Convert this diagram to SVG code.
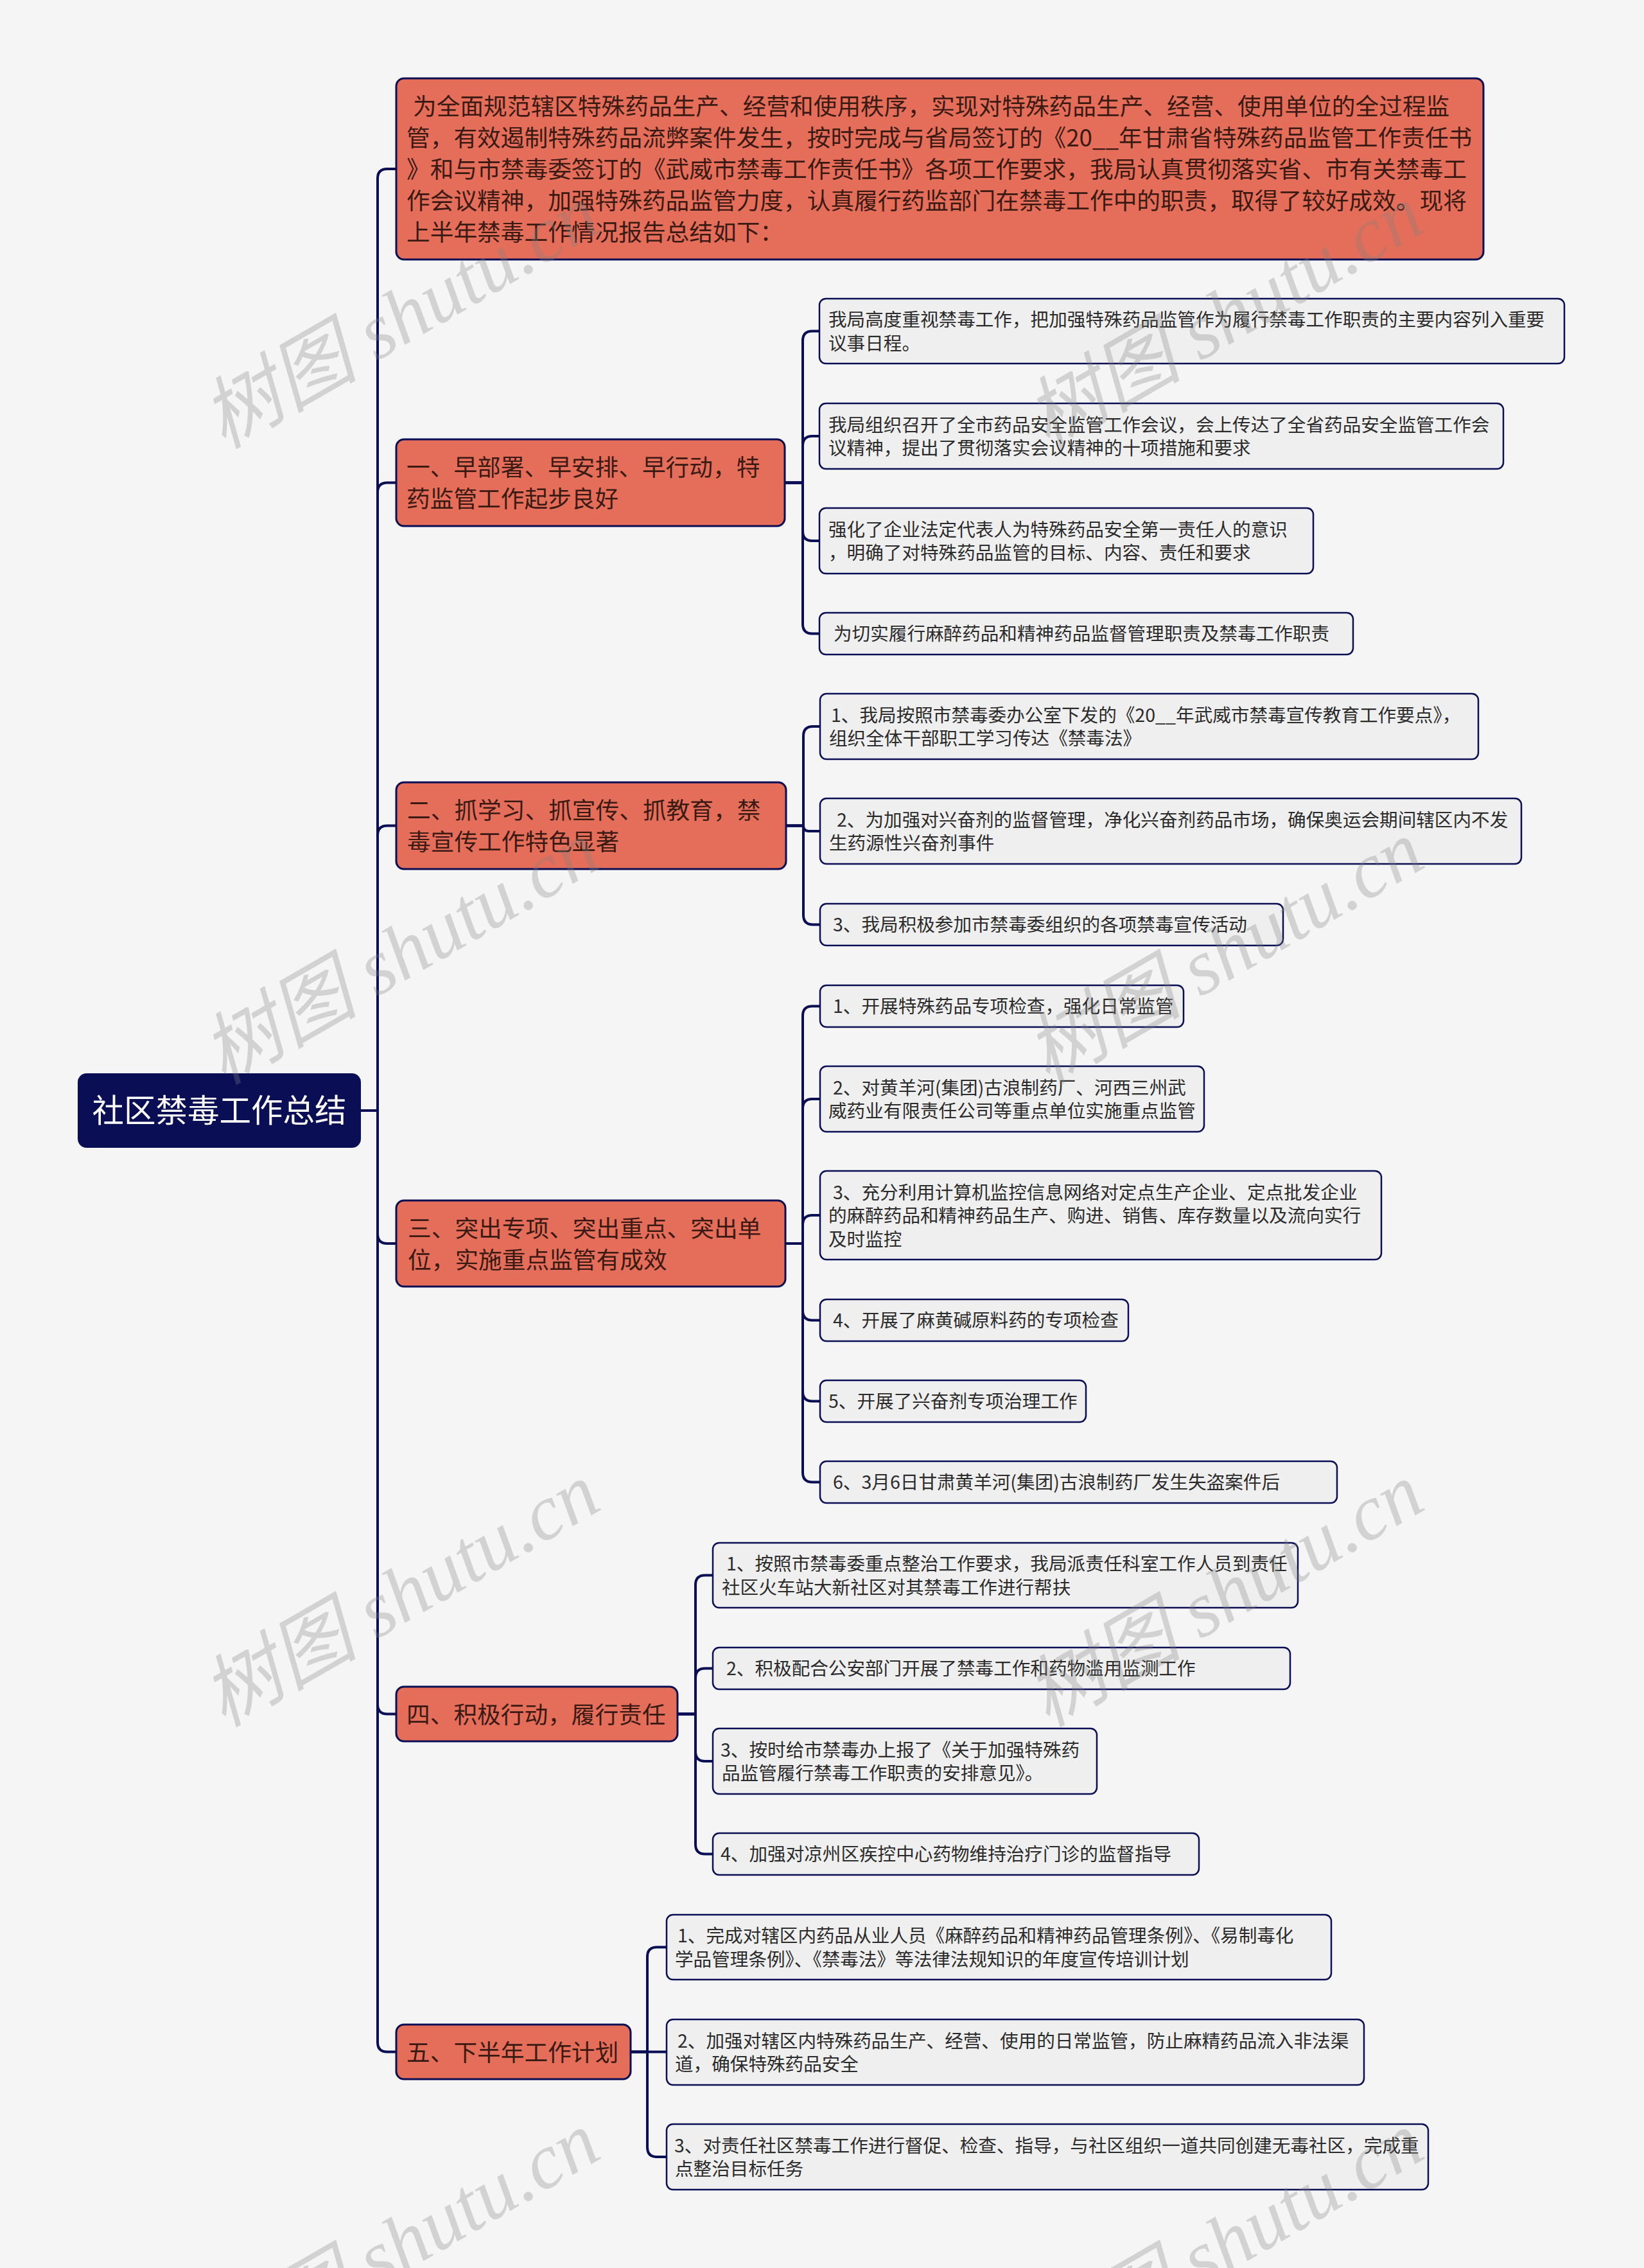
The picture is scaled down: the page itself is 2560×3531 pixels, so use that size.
<svg xmlns="http://www.w3.org/2000/svg" width="2560" height="3531" viewBox="0 0 2560 3531">
<style>
.bg{fill:#f5f5f5}
.root{fill:#0a0e55}
.br{fill:#e46e5a;stroke:#0a0e55;stroke-width:3}
.lf{fill:#efefef;stroke:#0a0e55;stroke-width:2.5}
.rt{font-family:"Noto Sans CJK SC","Liberation Sans",sans-serif;font-size:49.5px;fill:#ffffff}
.bt{font-family:"Noto Sans CJK SC","Liberation Sans",sans-serif;font-size:36.7px;fill:#3b1a14}
.lt{font-family:"Noto Sans CJK SC","Liberation Sans",sans-serif;font-size:28.6px;fill:#2b2b2b}
.cn{fill:none;stroke:#0a0e55;stroke-width:4}
.wm{font-family:"Liberation Serif","Noto Sans CJK SC",serif;font-style:italic;font-size:122px;fill:#808080;fill-opacity:0.3}
</style>
<rect class="bg" x="0" y="0" width="2560" height="3531"/>

<g id="connectors">
<path class="cn" d="M562 1729 H588 V278 Q588 263 603 263 H617"/>
<path class="cn" d="M562 1729 H588 V766.5 Q588 751.5 603 751.5 H617"/>
<path class="cn" d="M562 1729 H588 V1300.5 Q588 1285.5 603 1285.5 H617"/>
<path class="cn" d="M562 1729 H588 V1921 Q588 1936 603 1936 H617"/>
<path class="cn" d="M562 1729 H588 V2653.5 Q588 2668.5 603 2668.5 H617"/>
<path class="cn" d="M562 1729 H588 V3179.5 Q588 3194.5 603 3194.5 H617"/>

<path class="cn" d="M1222 751.5 H1250 V530.5 Q1250 515.5 1265 515.5 H1276"/>
<path class="cn" d="M1222 751.5 H1250 V694 Q1250 679 1265 679 H1276"/>
<path class="cn" d="M1222 751.5 H1250 V827 Q1250 842 1265 842 H1276"/>
<path class="cn" d="M1222 751.5 H1250 V971.5 Q1250 986.5 1265 986.5 H1276"/>

<path class="cn" d="M1224 1285.5 H1251 V1146 Q1251 1131 1266 1131 H1277"/>
<path class="cn" d="M1224 1285.5 H1251 Q1251 1294 1259.5 1294 H1277"/>
<path class="cn" d="M1224 1285.5 H1251 V1424.5 Q1251 1439.5 1266 1439.5 H1277"/>

<path class="cn" d="M1223 1936 H1250 V1581.5 Q1250 1566.5 1265 1566.5 H1277"/>
<path class="cn" d="M1223 1936 H1250 V1726 Q1250 1711 1265 1711 H1277"/>
<path class="cn" d="M1223 1936 H1250 V1907 Q1250 1892 1265 1892 H1277"/>
<path class="cn" d="M1223 1936 H1250 V2040.5 Q1250 2055.5 1265 2055.5 H1277"/>
<path class="cn" d="M1223 1936 H1250 V2166.5 Q1250 2181.5 1265 2181.5 H1277"/>
<path class="cn" d="M1223 1936 H1250 V2292.5 Q1250 2307.5 1265 2307.5 H1277"/>

<path class="cn" d="M1055 2668.5 H1083 V2467.5 Q1083 2452.5 1098 2452.5 H1110"/>
<path class="cn" d="M1055 2668.5 H1083 V2612.5 Q1083 2597.5 1098 2597.5 H1110"/>
<path class="cn" d="M1055 2668.5 H1083 V2727 Q1083 2742 1098 2742 H1110"/>
<path class="cn" d="M1055 2668.5 H1083 V2871.5 Q1083 2886.5 1098 2886.5 H1110"/>

<path class="cn" d="M982 3194.5 H1008 V3046.5 Q1008 3031.5 1023 3031.5 H1038"/>
<path class="cn" d="M982 3194.5 H1038"/>
<path class="cn" d="M982 3194.5 H1008 V3343 Q1008 3358 1023 3358 H1038"/>
</g>

<g id="root">
<rect class="root" x="121" y="1671" width="441" height="116" rx="14"/>
<text class="rt" x="341.5" y="1747" text-anchor="middle">社区禁毒工作总结</text>
</g>

<g id="intro">
<rect class="br" x="617" y="122" width="1693" height="282" rx="12"/>
<text class="bt">
<tspan x="643" y="179">为全面规范辖区特殊药品生产、经营和使用秩序，实现对特殊药品生产、经营、使用单位的全过程监</tspan>
<tspan x="633" y="228">管，有效遏制特殊药品流弊案件发生，按时完成与省局签订的《20__年甘肃省特殊药品监管工作责任书</tspan>
<tspan x="633" y="277">》和与市禁毒委签订的《武威市禁毒工作责任书》各项工作要求，我局认真贯彻落实省、市有关禁毒工</tspan>
<tspan x="633" y="326">作会议精神，加强特殊药品监管力度，认真履行药监部门在禁毒工作中的职责，取得了较好成效。现将</tspan>
<tspan x="633" y="375">上半年禁毒工作情况报告总结如下：</tspan>
</text>
</g>

<g id="b1">
<rect class="br" x="617" y="684" width="605" height="135" rx="12"/>
<text class="bt"><tspan x="633" y="741">一、早部署、早安排、早行动，特</tspan><tspan x="633" y="790">药监管工作起步良好</tspan></text>
</g>
<g id="b1c1">
<rect class="lf" x="1276" y="465" width="1160" height="101" rx="10"/>
<text class="lt"><tspan x="1290" y="508">我局高度重视禁毒工作，把加强特殊药品监管作为履行禁毒工作职责的主要内容列入重要</tspan><tspan x="1290" y="544.5">议事日程。</tspan></text>
</g>
<g id="b1c2">
<rect class="lf" x="1276" y="628" width="1065" height="102" rx="10"/>
<text class="lt"><tspan x="1290" y="671.5">我局组织召开了全市药品安全监管工作会议，会上传达了全省药品安全监管工作会</tspan><tspan x="1290" y="708">议精神，提出了贯彻落实会议精神的十项措施和要求</tspan></text>
</g>
<g id="b1c3">
<rect class="lf" x="1276" y="791" width="769" height="102" rx="10"/>
<text class="lt"><tspan x="1290" y="834.5">强化了企业法定代表人为特殊药品安全第一责任人的意识</tspan><tspan x="1290" y="871">，明确了对特殊药品监管的目标、内容、责任和要求</tspan></text>
</g>
<g id="b1c4">
<rect class="lf" x="1276" y="954" width="831" height="65" rx="10"/>
<text class="lt" x="1298" y="997">为切实履行麻醉药品和精神药品监督管理职责及禁毒工作职责</text>
</g>

<g id="b2">
<rect class="br" x="617" y="1218" width="607" height="135" rx="12"/>
<text class="bt"><tspan x="634" y="1275">二、抓学习、抓宣传、抓教育，禁</tspan><tspan x="634" y="1324">毒宣传工作特色显著</tspan></text>
</g>
<g id="b2c1">
<rect class="lf" x="1277" y="1080" width="1025" height="102" rx="10"/>
<text class="lt"><tspan x="1294" y="1123.5">1、我局按照市禁毒委办公室下发的《20__年武威市禁毒宣传教育工作要点》，</tspan><tspan x="1291" y="1160">组织全体干部职工学习传达《禁毒法》</tspan></text>
</g>
<g id="b2c2">
<rect class="lf" x="1277" y="1243" width="1092" height="102" rx="10"/>
<text class="lt"><tspan x="1303" y="1286.5">2、为加强对兴奋剂的监督管理，净化兴奋剂药品市场，确保奥运会期间辖区内不发</tspan><tspan x="1291" y="1323">生药源性兴奋剂事件</tspan></text>
</g>
<g id="b2c3">
<rect class="lf" x="1277" y="1407" width="721" height="65" rx="10"/>
<text class="lt" x="1297" y="1450">3、我局积极参加市禁毒委组织的各项禁毒宣传活动</text>
</g>

<g id="b3">
<rect class="br" x="617" y="1869" width="606" height="134" rx="12"/>
<text class="bt"><tspan x="635" y="1925.5">三、突出专项、突出重点、突出单</tspan><tspan x="635" y="1974.5">位，实施重点监管有成效</tspan></text>
</g>
<g id="b3c1">
<rect class="lf" x="1277" y="1534" width="566" height="65" rx="10"/>
<text class="lt" x="1297" y="1577">1、开展特殊药品专项检查，强化日常监管</text>
</g>
<g id="b3c2">
<rect class="lf" x="1277" y="1660" width="598" height="102" rx="10"/>
<text class="lt"><tspan x="1297" y="1703.5">2、对黄羊河(集团)古浪制药厂、河西三州武</tspan><tspan x="1290" y="1740">威药业有限责任公司等重点单位实施重点监管</tspan></text>
</g>
<g id="b3c3">
<rect class="lf" x="1277" y="1823" width="874" height="138" rx="10"/>
<text class="lt"><tspan x="1297" y="1866.5">3、充分利用计算机监控信息网络对定点生产企业、定点批发企业</tspan><tspan x="1290" y="1903">的麻醉药品和精神药品生产、购进、销售、库存数量以及流向实行</tspan><tspan x="1290" y="1939.5">及时监控</tspan></text>
</g>
<g id="b3c4">
<rect class="lf" x="1277" y="2023" width="480" height="65" rx="10"/>
<text class="lt" x="1297" y="2066">4、开展了麻黄碱原料药的专项检查</text>
</g>
<g id="b3c5">
<rect class="lf" x="1277" y="2149" width="414" height="65" rx="10"/>
<text class="lt" x="1290" y="2192">5、开展了兴奋剂专项治理工作</text>
</g>
<g id="b3c6">
<rect class="lf" x="1277" y="2275" width="805" height="65" rx="10"/>
<text class="lt" x="1297" y="2318">6、3月6日甘肃黄羊河(集团)古浪制药厂发生失盗案件后</text>
</g>

<g id="b4">
<rect class="br" x="617" y="2626" width="438" height="85" rx="12"/>
<text class="bt" x="633" y="2683">四、积极行动，履行责任</text>
</g>
<g id="b4c1">
<rect class="lf" x="1110" y="2402" width="911" height="101" rx="10"/>
<text class="lt"><tspan x="1131" y="2445">1、按照市禁毒委重点整治工作要求，我局派责任科室工作人员到责任</tspan><tspan x="1124" y="2481.5">社区火车站大新社区对其禁毒工作进行帮扶</tspan></text>
</g>
<g id="b4c2">
<rect class="lf" x="1110" y="2565" width="899" height="65" rx="10"/>
<text class="lt" x="1131" y="2608">2、积极配合公安部门开展了禁毒工作和药物滥用监测工作</text>
</g>
<g id="b4c3">
<rect class="lf" x="1110" y="2691" width="598" height="102" rx="10"/>
<text class="lt"><tspan x="1122" y="2734.5">3、按时给市禁毒办上报了《关于加强特殊药</tspan><tspan x="1124" y="2771">品监管履行禁毒工作职责的安排意见》。</tspan></text>
</g>
<g id="b4c4">
<rect class="lf" x="1110" y="2854" width="757" height="65" rx="10"/>
<text class="lt" x="1122" y="2897">4、加强对凉州区疾控中心药物维持治疗门诊的监督指导</text>
</g>

<g id="b5">
<rect class="br" x="617" y="3152" width="365" height="85" rx="12"/>
<text class="bt" x="633" y="3208.5">五、下半年工作计划</text>
</g>
<g id="b5c1">
<rect class="lf" x="1038" y="2981" width="1035" height="101" rx="10"/>
<text class="lt"><tspan x="1055" y="3024">1、完成对辖区内药品从业人员《麻醉药品和精神药品管理条例》、《易制毒化</tspan><tspan x="1051" y="3060.5">学品管理条例》、《禁毒法》等法律法规知识的年度宣传培训计划</tspan></text>
</g>
<g id="b5c2">
<rect class="lf" x="1038" y="3144" width="1086" height="102" rx="10"/>
<text class="lt"><tspan x="1055" y="3187.5">2、加强对辖区内特殊药品生产、经营、使用的日常监管，防止麻精药品流入非法渠</tspan><tspan x="1051" y="3224">道，确保特殊药品安全</tspan></text>
</g>
<g id="b5c3">
<rect class="lf" x="1038" y="3307" width="1186" height="102" rx="10"/>
<text class="lt"><tspan x="1050" y="3350.5">3、对责任社区禁毒工作进行督促、检查、指导，与社区组织一道共同创建无毒社区，完成重</tspan><tspan x="1051" y="3387">点整治目标任务</tspan></text>
</g>

<g id="watermarks">
<text class="wm" x="348" y="700" transform="rotate(-30 348 700)">树图 shutu.cn</text>
<text class="wm" x="1631" y="700" transform="rotate(-30 1631 700)">树图 shutu.cn</text>
<text class="wm" x="348" y="1690" transform="rotate(-30 348 1690)">树图 shutu.cn</text>
<text class="wm" x="1631" y="1690" transform="rotate(-30 1631 1690)">树图 shutu.cn</text>
<text class="wm" x="348" y="2690" transform="rotate(-30 348 2690)">树图 shutu.cn</text>
<text class="wm" x="1631" y="2690" transform="rotate(-30 1631 2690)">树图 shutu.cn</text>
<text class="wm" x="348" y="3700" transform="rotate(-30 348 3700)">树图 shutu.cn</text>
<text class="wm" x="1631" y="3700" transform="rotate(-30 1631 3700)">树图 shutu.cn</text>
</g>
</svg>
